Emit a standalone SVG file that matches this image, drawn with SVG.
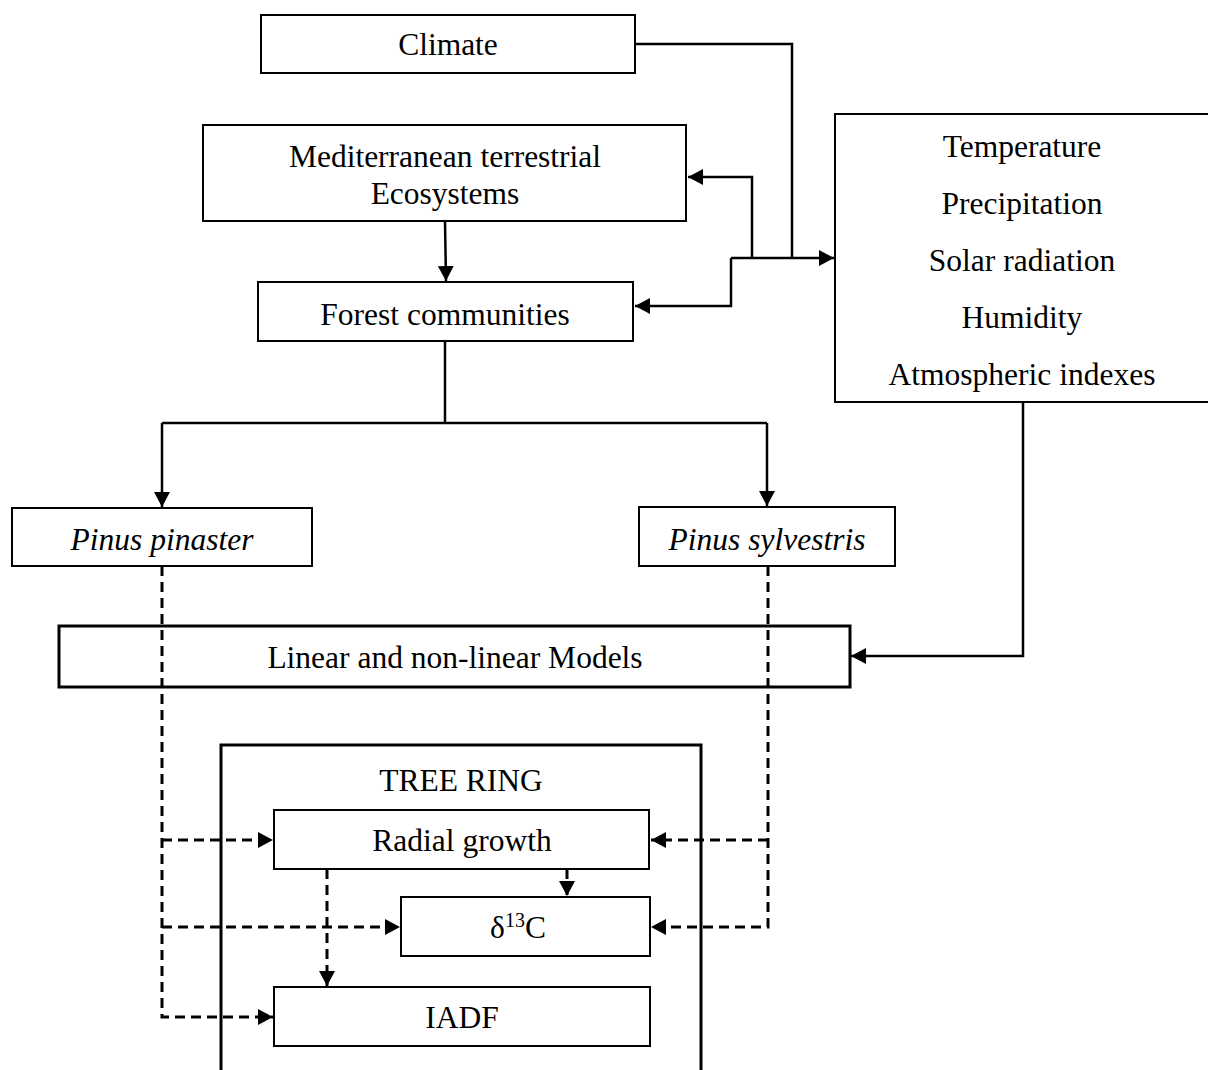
<svg xmlns="http://www.w3.org/2000/svg" width="1208" height="1070" viewBox="0 0 1208 1070">
<style>
.box{fill:#fff;stroke:#000;stroke-width:2}
.thick{fill:none;stroke:#000;stroke-width:3}
.t{font-family:"Liberation Serif","Times New Roman",serif;font-size:31.5px;fill:#000;text-anchor:middle}
.i{font-style:italic}
.c{fill:none;stroke:#000;stroke-width:2.5}
.d{fill:none;stroke:#000;stroke-width:3;stroke-dasharray:10 6}
</style>
<defs>
<marker id="ah" markerUnits="userSpaceOnUse" markerWidth="16" markerHeight="16" refX="15" refY="8" orient="auto">
<path d="M0,0 L15,8 L0,16 Z" fill="#000"/>
</marker>
</defs>
<rect width="1208" height="1070" fill="#fff"/>
<g id="connectors">
<polyline class="c" points="635,44 792,44 792,258"/>
<polyline class="c" points="731,258 834,258" marker-end="url(#ah)"/>
<polyline class="c" points="752,258 752,177 688,177" marker-end="url(#ah)"/>
<polyline class="c" points="731,258 731,306 635,306" marker-end="url(#ah)"/>
<polyline class="c" points="445,221 446,281" marker-end="url(#ah)"/>
<polyline class="c" points="445,341 445,423"/>
<polyline class="c" points="162,423 767,423"/>
<polyline class="c" points="162,423 162,507" marker-end="url(#ah)"/>
<polyline class="c" points="767,423 767,506" marker-end="url(#ah)"/>
<polyline class="c" points="1023,402 1023,656 851,656" marker-end="url(#ah)"/>
<polyline class="d" points="162,566 162,1017 273,1017" marker-end="url(#ah)"/>
<polyline class="d" points="162,840 273,840" marker-end="url(#ah)"/>
<polyline class="d" points="162,927 400,927" marker-end="url(#ah)"/>
<polyline class="d" points="327,869 327,986" marker-end="url(#ah)"/>
<polyline class="d" points="567,869 567,896" marker-end="url(#ah)"/>
<polyline class="d" points="768,566 768,927 651,927" marker-end="url(#ah)"/>
<polyline class="d" points="768,840 651,840" marker-end="url(#ah)"/>
</g>
<g id="climate">
<rect class="box" x="261" y="15" width="374" height="58"/>
<text class="t" x="448" y="55">Climate</text>
</g>
<g id="variables">
<rect class="box" x="835" y="114" width="380" height="288"/>
<text class="t" x="1022" y="157">Temperature</text>
<text class="t" x="1022" y="214">Precipitation</text>
<text class="t" x="1022" y="271">Solar radiation</text>
<text class="t" x="1022" y="328">Humidity</text>
<text class="t" x="1022" y="385">Atmospheric indexes</text>
</g>
<g id="mediterranean">
<rect class="box" x="203" y="125" width="483" height="96"/>
<text class="t" x="445" y="167">Mediterranean terrestrial</text>
<text class="t" x="445" y="204">Ecosystems</text>
</g>
<g id="forest">
<rect class="box" x="258" y="282" width="375" height="59"/>
<text class="t" x="445" y="325">Forest communities</text>
</g>
<g id="pinaster">
<rect class="box" x="12" y="508" width="300" height="58"/>
<text class="t i" x="162" y="550">Pinus pinaster</text>
</g>
<g id="sylvestris">
<rect class="box" x="639" y="507" width="256" height="59"/>
<text class="t i" x="767" y="550">Pinus sylvestris</text>
</g>
<g id="models">
<rect class="thick" x="59" y="626" width="791" height="61"/>
<text class="t" x="455" y="668">Linear and non-linear Models</text>
</g>
<g id="treering">
<rect class="thick" x="221" y="745" width="480" height="340"/>
<text class="t" x="461" y="791">TREE RING</text>
</g>
<g id="radial">
<rect class="box" x="274" y="810" width="375" height="59"/>
<text class="t" x="462" y="851">Radial growth</text>
</g>
<g id="d13c">
<rect class="box" x="401" y="897" width="249" height="59"/>
<text class="t" x="518" y="938">δ<tspan font-size="20" dy="-11">13</tspan><tspan dy="11">C</tspan></text>
</g>
<g id="iadf">
<rect class="box" x="274" y="987" width="376" height="59"/>
<text class="t" x="462" y="1028">IADF</text>
</g>
</svg>
